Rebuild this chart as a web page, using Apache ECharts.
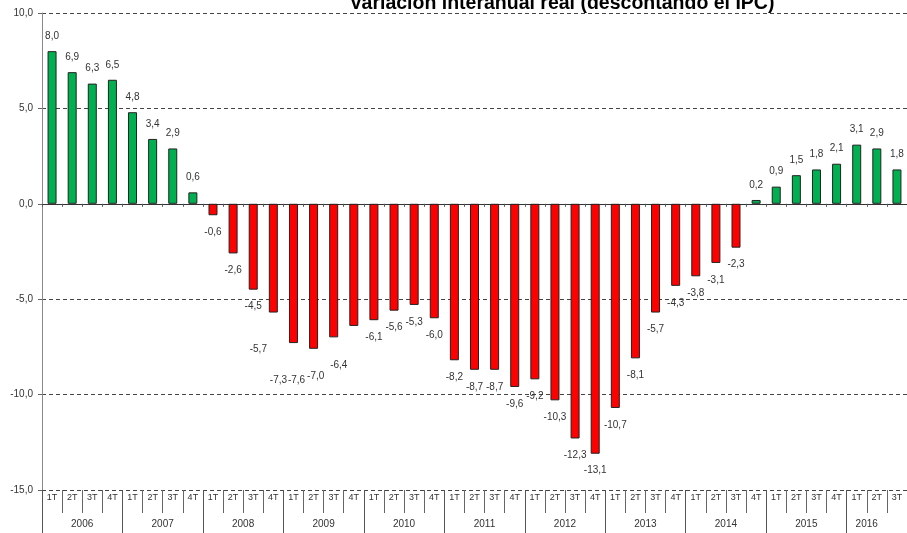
<!DOCTYPE html>
<html>
<head>
<meta charset="utf-8">
<script src="https://cdn.jsdelivr.net/npm/echarts@6/dist/echarts.min.js"></script>
<style>html,body{margin:0;padding:0;background:#fff}#c{width:907px;height:533px}</style>
</head>
<body>
<div id="c"></div>
<script>
var titleText = 'Variación interanual real (descontando el IPC)';
var quarters = ['1T','2T','3T','4T','1T','2T','3T','4T','1T','2T','3T','4T','1T','2T','3T','4T','1T','2T','3T','4T','1T','2T','3T','4T','1T','2T','3T','4T','1T','2T','3T','4T','1T','2T','3T','4T','1T','2T','3T','4T','1T','2T','3T'];
var years = ['2006','2006','2006','2006','2007','2007','2007','2007','2008','2008','2008','2008','2009','2009','2009','2009','2010','2010','2010','2010','2011','2011','2011','2011','2012','2012','2012','2012','2013','2013','2013','2013','2014','2014','2014','2014','2015','2015','2015','2015','2016','2016','2016'];
var values = [8.0,6.9,6.3,6.5, 4.8,3.4,2.9,0.6, -0.6,-2.6,-4.5,-5.7, -7.3,-7.6,-7.0,-6.4, -6.1,-5.6,-5.3,-6.0, -8.2,-8.7,-8.7,-9.6, -9.2,-10.3,-12.3,-13.1, -10.7,-8.1,-5.7,-4.3, -3.8,-3.1,-2.3,0.2, 0.9,1.5,1.8,2.1, 3.1,2.9,1.8];
var yTicks = {min: -15, max: 10, interval: 5};

// manually displaced data labels in the original (index -> pixel offset)
var labelShift = {11: [-15, 20], 12: [-15, 20], 13: [-17, 14], 14: [-18, 22], 15: [-15, 22]};

function fmt(v){ return Number(v).toFixed(1).replace('.', ','); }

var chart = echarts.init(document.getElementById('c'), null, {renderer: 'canvas'});
var gridRect = {left: 42, right: -6, top: 13, bottom: 43};
var font = 'Liberation Sans, Arial, sans-serif';

var barData = values.map(function(v, i){
  var lab = {position: v >= 0 ? 'top' : 'bottom', distance: v >= 0 ? 10 : 12};
  if (labelShift[i]) lab.offset = labelShift[i];
  return {
    value: v,
    itemStyle: {color: v >= 0 ? '#00B050' : '#FF0000'},
    label: lab
  };
});

var option = {
  animation: false,
  backgroundColor: '#fff',
  grid: [
    Object.assign({}, gridRect),
    Object.assign({}, gridRect),
    Object.assign({}, gridRect)
  ],
  xAxis: [
    {
      gridIndex: 0, type: 'category', data: quarters, position: 'bottom',
      axisLine: {onZero: true, lineStyle: {color: '#333', width: 1}},
      axisTick: {show: true, length: 3, interval: 0, lineStyle: {color: '#556'}},
      axisLabel: {show: false}, splitLine: {show: false}
    },
    {
      gridIndex: 1, type: 'category', data: quarters, position: 'bottom',
      axisLine: {show: false, onZero: false},
      axisTick: {show: true, length: 23, interval: 0, lineStyle: {color: '#666'}},
      axisLabel: {show: true, interval: 0, margin: 3, fontSize: 9, color: '#333', fontFamily: font},
      splitLine: {show: false}
    },
    {
      gridIndex: 2, type: 'category', data: years, position: 'bottom',
      axisLine: {show: false, onZero: false},
      axisTick: {show: true, length: 45, interval: function(i){ return i % 4 === 0; }, lineStyle: {color: '#555'}},
      axisLabel: {
        show: true, margin: 29, fontSize: 10, color: '#333', fontFamily: font,
        interval: function(i){ return (i % 4 === 1 && i < 40) || i === 40; },
        padding: [0, 0, 0, 20]
      },
      splitLine: {show: false}
    }
  ],
  yAxis: [
    {
      gridIndex: 0, type: 'value', min: yTicks.min, max: yTicks.max, interval: yTicks.interval,
      axisLine: {show: true, lineStyle: {color: '#888'}},
      axisTick: {show: true, length: 4, lineStyle: {color: '#666'}},
      axisLabel: {fontSize: 10, color: '#333', fontFamily: font, margin: 9, formatter: fmt},
      splitLine: {show: true, lineStyle: {color: '#444', type: [4, 3], width: 1}}
    },
    {gridIndex: 1, type: 'value', min: yTicks.min, max: yTicks.max, show: false},
    {gridIndex: 2, type: 'value', min: yTicks.min, max: yTicks.max, show: false}
  ],
  graphic: [{
    type: 'text', x: 562, y: 14,
    style: {text: titleText, font: 'bold 19.5px ' + font, fill: '#000', align: 'center', verticalAlign: 'bottom'}
  }],
  series: [{
    type: 'bar', xAxisIndex: 0, yAxisIndex: 0,
    data: barData, barWidth: 9,
    itemStyle: {borderColor: '#222', borderWidth: 1},
    label: {show: true, fontSize: 10, color: '#333', fontFamily: font,
      formatter: function(p){ return fmt(p.value); }}
  }]
};
chart.setOption(option);
</script>
</body>
</html>
